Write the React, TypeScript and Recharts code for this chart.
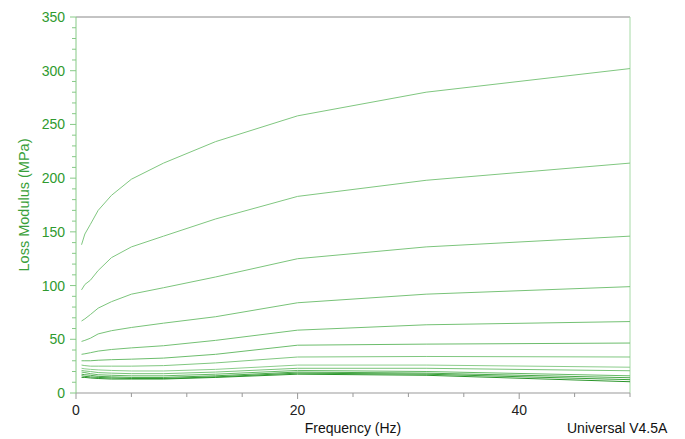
import React from "react";
import { LineChart, Line, XAxis, YAxis, ReferenceLine } from "recharts";

// frequency sweep (Hz)
const freqs = [0.5, 0.8, 1.3, 2, 3.2, 5, 7.9, 12.6, 20, 31.6, 50];

// loss modulus curves (MPa), top to bottom
const s1 = [138, 148, 157, 170, 184, 199, 214, 234, 258, 280, 302];
const s2 = [96, 101, 105, 114, 126, 136, 146, 162, 183, 198, 214];
const s3 = [67, 69, 73, 79, 85, 92, 98, 108, 125, 136, 146];
const s4 = [48, 49, 51, 55, 58, 61, 65, 71, 84, 92, 99];
const s5 = [36, 36.5, 37.5, 39, 40.5, 42, 44, 49, 58.5, 63.5, 66.5];
const s6 = [30, 30, 30, 30.5, 31, 31.5, 32.5, 36, 44.5, 45.5, 46.5];
const s7 = [26, 25.5, 25, 25, 25, 25, 25.5, 28, 33.5, 34, 33.5];
const s8 = [23, 22.5, 22, 21.5, 21, 20.5, 20.5, 22, 26, 26, 24];
const s9 = [21, 20.5, 20, 19, 18.5, 18, 18, 19.5, 23, 23, 20.7];
const s10 = [19.5, 19, 18, 17, 16.5, 16, 16, 17.5, 21, 20, 16];
const s11 = [17.5, 17, 16.5, 15.5, 15, 14.5, 14.5, 16, 19.5, 18.5, 14.2];
const s12 = [16, 15.5, 15, 14.5, 14, 13.5, 13.5, 15, 18.5, 17.5, 12.4];
const s13 = [14.5, 14.5, 14, 13.5, 13, 13, 13, 14.5, 17.5, 16.5, 10.5];

const series = [s1, s2, s3, s4, s5, s6, s7, s8, s9, s10, s11, s12, s13];
const colors = [
  "#80c780", "#80c780", "#7cc57c", "#78c378", "#74c174", "#6cbd6c", "#80c780",
  "#8ccd8c", "#78c378", "#66ba66", "#4aa94a", "#3a9f3a", "#2a952a",
];

const xTicks = [0, 5, 10, 15, 20, 25, 30, 35, 40, 45, 50];
const yTicks = Array.from({ length: 36 }, (_, i) => i * 10);

const data = freqs.map((f, i) => {
  const row: Record<string, number> = { f };
  series.forEach((s, k) => (row["s" + k] = s[i]));
  return row;
});

const font = "'Liberation Sans', Arial, sans-serif";

const XTick = ({ x, y, payload }: any) => {
  const major = payload.value % 20 === 0;
  return (
    <g>
      <line x1={x} x2={x} y1={y} y2={y + (major ? 6 : 4)} stroke="#999" />
      {major && (
        <text x={x} y={y + 12} dy="0.71em" textAnchor="middle" fill="#222" fontSize={14} fontFamily={font}>
          {payload.value}
        </text>
      )}
    </g>
  );
};

const YTick = ({ x, y, payload }: any) => {
  const major = payload.value % 50 === 0;
  return (
    <g>
      <line x1={x - (major ? 6 : 4)} x2={x} y1={y} y2={y} stroke="#86c986" />
      {major && (
        <text x={x - 11} y={y} dy="0.36em" textAnchor="end" fill="#2f9a2f" fontSize={14} fontFamily={font}>
          {payload.value}
        </text>
      )}
    </g>
  );
};

export default function App() {
  return (
    <div style={{ position: "absolute", left: 0, top: 0, width: 685, height: 439, background: "#fff" }}>
      <LineChart width={685} height={439} data={data} margin={{ top: 17, right: 55, bottom: 0, left: 16 }}>
        <XAxis
          dataKey="f"
          type="number"
          domain={[0, 50]}
          ticks={xTicks}
          interval={0}
          tickSize={0}
          tickMargin={0}
          tickLine={false}
          tick={<XTick />}
          axisLine={{ stroke: "#999" }}
          height={46}
        />
        <YAxis
          domain={[0, 350]}
          ticks={yTicks}
          interval={0}
          tickSize={0}
          tickMargin={0}
          tickLine={false}
          tick={<YTick />}
          axisLine={{ stroke: "#86c986" }}
          width={60}
        />
        <ReferenceLine y={350} stroke="#888" />
        <ReferenceLine x={50} stroke="#a6daa6" />
        {series.map((_, k) => (
          <Line
            key={k}
            dataKey={"s" + k}
            type="linear"
            stroke={colors[k]}
            strokeWidth={1}
            dot={false}
            isAnimationActive={false}
          />
        ))}
      </LineChart>
      <div
        style={{
          position: "absolute",
          left: 24,
          top: 205,
          transform: "translate(-50%, -50%) rotate(-90deg)",
          whiteSpace: "nowrap",
          color: "#3a9f3a",
          fontSize: 14.5,
          fontFamily: font,
        }}
      >
        Loss Modulus (MPa)
      </div>
      <div
        style={{
          position: "absolute",
          left: 353,
          top: 428,
          transform: "translate(-50%, -50%)",
          whiteSpace: "nowrap",
          color: "#111",
          fontSize: 14,
          fontFamily: font,
        }}
      >
        Frequency (Hz)
      </div>
      <div
        style={{
          position: "absolute",
          left: 567,
          top: 428,
          transform: "translateY(-50%)",
          whiteSpace: "nowrap",
          color: "#111",
          fontSize: 14,
          fontFamily: font,
        }}
      >
        Universal V4.5A
      </div>
    </div>
  );
}
